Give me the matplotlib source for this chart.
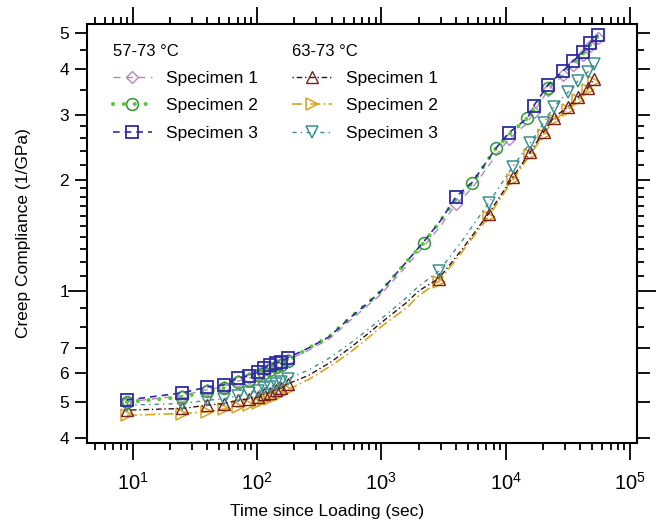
import numpy as np
import matplotlib.pyplot as plt
from matplotlib.lines import Line2D
from matplotlib.ticker import FixedLocator, FixedFormatter, LogLocator, NullFormatter

plt.rcParams['font.family'] = ['Liberation Sans', 'DejaVu Sans']

# time (sec) for the 57-73 C group
t_a = [9, 25, 40, 54, 71, 86, 102, 114, 128, 143, 156, 178,
       260, 380, 560, 800, 1000, 1600,
       2200, 3000, 4000, 5400, 8400, 10600, 15000, 16800, 22000, 29000, 35000, 42000, 48000, 55000]
a_spec1 = [0.50, 0.52, 0.54, 0.55, 0.57, 0.58, 0.595, 0.61, 0.62, 0.63, 0.635, 0.65,
           0.69, 0.74, 0.83, 0.92, 0.98, 1.17,
           1.32, 1.50, 1.72, 1.90, 2.33, 2.58, 2.85, 3.05, 3.50, 3.85, 4.10, 4.35, 4.60, 4.85]
a_spec2 = [0.50, 0.515, 0.535, 0.545, 0.565, 0.575, 0.59, 0.60, 0.61, 0.62, 0.63, 0.645,
           0.70, 0.75, 0.845, 0.934, 1.0, 1.20,
           1.35, 1.55, 1.78, 1.96, 2.44, 2.65, 2.94, 3.10, 3.55, 3.90, 4.15, 4.40, 4.65, 4.90]
a_spec3 = [0.506, 0.529, 0.549, 0.556, 0.581, 0.588, 0.603, 0.618, 0.630, 0.638, 0.642, 0.659,
           0.70, 0.75, 0.845, 0.934, 1.0, 1.20,
           1.36, 1.55, 1.80, 1.97, 2.44, 2.68, 2.94, 3.17, 3.62, 3.95, 4.20, 4.44, 4.70, 4.94]

# time (sec) for the 63-73 C group
t_b = [9, 25, 40, 54, 71, 86, 102, 114, 128, 143, 156, 178,
       260, 390, 560, 800, 1000, 1600, 2000,
       2900, 4500, 7300, 11400, 15800, 20200, 24400, 31600, 38100, 45800, 51400]
b_spec1 = [0.475, 0.48, 0.49, 0.495, 0.505, 0.51, 0.515, 0.525, 0.53, 0.54, 0.545, 0.56,
           0.59, 0.64, 0.70, 0.77, 0.82, 0.93, 1.0,
           1.08, 1.30, 1.62, 2.03, 2.38, 2.70, 2.95, 3.15, 3.35, 3.55, 3.75]
b_spec2 = [0.46, 0.465, 0.47, 0.478, 0.485, 0.49, 0.497, 0.505, 0.51, 0.52, 0.525, 0.54,
           0.575, 0.625, 0.68, 0.75, 0.80, 0.90, 0.97,
           1.06, 1.28, 1.59, 2.00, 2.34, 2.65, 2.90, 3.09, 3.29, 3.50, 3.69]
b_spec3 = [0.49, 0.495, 0.505, 0.51, 0.52, 0.53, 0.535, 0.545, 0.55, 0.56, 0.565, 0.578,
           0.61, 0.66, 0.72, 0.79, 0.84, 0.96, 1.03,
           1.13, 1.37, 1.73, 2.17, 2.52, 2.85, 3.15, 3.45, 3.70, 3.92, 4.12]

# which points carry a symbol
early = list(range(12))
mark_a_sq = early + [20, 23, 25, 26, 27, 28, 29, 30, 31]
mark_a_ci = early + [18, 21, 22, 24, 26]
mark_b = early + [19, 21, 22, 23, 24, 25, 26, 27, 28, 29]

y_ticks = [0.4, 0.5, 0.6, 0.7, 1, 2, 3, 4, 5]
y_labels = ['4', '5', '6', '7', '1', '2', '3', '4', '5']
y_minor = [0.8, 0.9, 1.1, 1.2, 1.3, 1.4, 1.5, 1.6, 1.7, 1.8, 1.9, 2.2, 2.4, 2.6, 2.8, 3.5, 4.5]

styles = {
    'a1': dict(color='#b585c5', ls=(0, (5, 4)), lw=1.0, marker='D', ms=6, mfc='none', mec='#b585c5', mew=1.0),
    'a2': dict(color='#55cc33', ls=(0, (0.01, 2.6)), lw=3.0, dash_capstyle='round', marker='o', ms=8.5,
               mfc='none', mec='#3c9a3c', mew=1.2),
    'a3': dict(color='#2c2ca0', ls=(0, (4, 3)), lw=1.2, marker='s', ms=8, mfc='none', mec='#2c2ca0', mew=1.3),
    'b1': dict(color='#3a1212', ls=(0, (1, 2, 4, 2)), lw=1.0, marker='^', ms=8, mfc='none', mec='#7a2020', mew=1.0),
    'b2': dict(color='#d9a520', ls=(0, (6, 2, 1, 2)), lw=1.2, marker='>', ms=8, mfc='none', mec='#d9a520', mew=1.1),
    'b3': dict(color='#3d8f8f', ls=(0, (3, 3, 1, 3)), lw=1.0, marker='v', ms=8, mfc='none', mec='#3d8f8f', mew=1.1),
}

fig = plt.figure(figsize=(6.56, 5.30), dpi=100)
ax = fig.add_axes([0.1326, 0.1642, 0.8384, 0.7905])

ax.plot(t_b, b_spec2, markevery=mark_b, zorder=3, **styles['b2'])
ax.plot(t_b, b_spec1, markevery=mark_b, zorder=3, **styles['b1'])
ax.plot(t_b, b_spec3, markevery=mark_b, zorder=3, **styles['b3'])
ax.plot(t_a, a_spec1, markevery=mark_a_sq, zorder=4, **styles['a1'])
ax.plot(t_a, a_spec2, markevery=mark_a_ci, zorder=4, **styles['a2'])
ax.plot(t_a, a_spec3, markevery=mark_a_sq, zorder=5, **styles['a3'])

ax.set_xscale('log')
ax.set_yscale('log')
ax.set_xlim(4.3, 1.14e5)
ax.set_ylim(0.387, 5.29)

ax.xaxis.set_major_locator(LogLocator(base=10, numticks=10))
ax.xaxis.set_minor_locator(LogLocator(base=10, subs=np.arange(2, 10), numticks=20))
ax.xaxis.set_minor_formatter(NullFormatter())
ax.yaxis.set_major_locator(FixedLocator(y_ticks))
ax.yaxis.set_major_formatter(FixedFormatter(y_labels))
ax.yaxis.set_minor_locator(FixedLocator(y_minor))
ax.yaxis.set_minor_formatter(NullFormatter())

ax.tick_params(which='both', direction='out', top=True, right=True, width=1.3)
ax.tick_params(which='major', length=9)
ax.tick_params(which='minor', length=5)
ax.tick_params(axis='x', which='major', length=12, labelsize=14.5, pad=9)
ax.tick_params(axis='y', which='major', labelsize=12.5, pad=4)
for tk, v in zip(ax.yaxis.get_major_ticks(), y_ticks):
    if v == 1:
        tk.tick1line.set_markersize(14)
        tk.tick2line.set_markersize(14)
for s in ax.spines.values():
    s.set_linewidth(1.5)

ax.set_xlabel('Time since Loading (sec)', fontsize=12.5)
ax.xaxis.set_label_coords(0.436, -0.145)
ax.set_ylabel('Creep Compliance (1/GPa)', fontsize=12.5, labelpad=20)

labels = ['Specimen 1', 'Specimen 2', 'Specimen 3']
h_a = [Line2D([], [], **styles[k]) for k in ['a1', 'a2', 'a3']]
h_b = [Line2D([], [], **styles[k]) for k in ['b1', 'b2', 'b3']]
leg1 = ax.legend(h_a, labels, title='57-73 \u00b0C', loc='upper left', bbox_to_anchor=(0.018, 0.99),
                 frameon=False, fontsize=12.5, title_fontsize=12, alignment='left',
                 handlelength=2.3, handletextpad=0.8, labelspacing=0.7, numpoints=1)
ax.add_artist(leg1)
ax.legend(h_b, labels, title='63-73 \u00b0C', loc='upper left', bbox_to_anchor=(0.345, 0.99),
          frameon=False, fontsize=12.5, title_fontsize=12, alignment='left',
          handlelength=2.3, handletextpad=0.8, labelspacing=0.7, numpoints=1)

fig.savefig('out.png', dpi=100)
